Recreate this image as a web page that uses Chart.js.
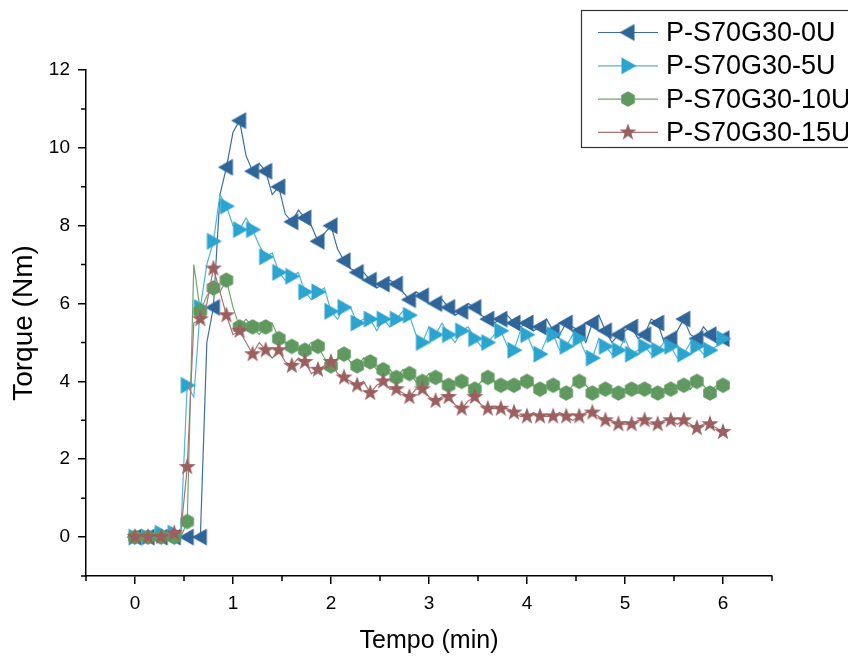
<!DOCTYPE html>
<html>
<head>
<meta charset="utf-8">
<script src="https://cdn.jsdelivr.net/npm/chart.js@4.4.1/dist/chart.umd.min.js"></script>
<style>
  html, body { margin: 0; padding: 0; background: #fff; }
</style>
</head>
<body>
<canvas id="torqueChart" width="848" height="659"></canvas>
<script>
// tempo (min), leitura a cada ~4 s; marcadores nos indices pares
const tempo = [
  0, 0.067, 0.133, 0.2, 0.267, 0.333, 0.4, 0.467, 0.533, 0.6, 0.667, 0.733, 0.8, 0.867, 0.933,
  1, 1.067, 1.133, 1.2, 1.267, 1.333, 1.4, 1.467, 1.533, 1.6, 1.667, 1.733, 1.8, 1.867, 1.933,
  2, 2.067, 2.133, 2.2, 2.267, 2.333, 2.4, 2.467, 2.533, 2.6, 2.667, 2.733, 2.8, 2.867, 2.933,
  3, 3.067, 3.133, 3.2, 3.267, 3.333, 3.4, 3.467, 3.533, 3.6, 3.667, 3.733, 3.8, 3.867, 3.933,
  4, 4.067, 4.133, 4.2, 4.267, 4.333, 4.4, 4.467, 4.533, 4.6, 4.667, 4.733, 4.8, 4.867, 4.933,
  5, 5.067, 5.133, 5.2, 5.267, 5.333, 5.4, 5.467, 5.533, 5.6, 5.667, 5.733, 5.8, 5.867, 5.933,
  6
];

const torque0U = [
  0, 0, 0, 0, 0, 0, 0, 0, 0, 0, 0, 5.0, 5.9, 8.8, 9.5, 10.4, 10.7, 9.8, 9.4, 9.6,
  9.4, 8.8, 9.0, 8.3, 8.1, 8.4, 8.2, 8.0, 7.6, 7.8, 8.0, 7.4, 7.1, 6.9, 6.8, 6.8, 6.6, 6.4, 6.5, 6.6,
  6.5, 6.3, 6.1, 6.3, 6.2, 6.0, 6.0, 6.1, 5.9, 5.7, 5.8, 6.0, 5.9, 5.7, 5.6, 5.5, 5.6, 5.7, 5.5, 5.4,
  5.5, 5.3, 5.4, 5.6, 5.3, 5.2, 5.5, 5.4, 5.3, 5.0, 5.5, 5.7, 5.3, 5.0, 5.2, 5.3, 5.4, 5.1, 5.2, 5.6,
  5.5, 5.0, 5.1, 5.3, 5.6, 5.2, 5.1, 5.4, 5.2, 5.0, 5.1
];

const torque5U = [
  0, 0, 0, 0, 0.1, 0.1, 0.1, 0.1, 3.9, 3.6, 5.9, 7.0, 7.6, 8.8, 8.5, 8.0, 7.9, 8.2, 7.9, 7.5,
  7.2, 7.3, 6.8, 6.6, 6.7, 6.8, 6.3, 6.1, 6.3, 6.4, 5.8, 5.6, 5.9, 5.9, 5.5, 5.6, 5.6, 5.3, 5.6, 5.4,
  5.6, 5.8, 5.7, 5.2, 5.0, 5.4, 5.2, 5.5, 5.2, 5.0, 5.3, 5.4, 5.1, 4.9, 5.0, 5.2, 5.3, 4.9, 4.8, 5.3,
  5.2, 4.8, 4.7, 5.1, 5.2, 4.8, 4.9, 5.2, 5.1, 4.7, 4.6, 5.1, 4.9, 4.7, 4.8, 5.1, 4.7, 4.8, 4.9, 4.7,
  4.8, 5.0, 4.9, 4.6, 4.7, 5.0, 4.9, 4.7, 4.8, 4.9, 5.1
];

const torque10U = [
  0, 0, 0, 0, 0, 0, 0, 0, 0.4, 7.0, 5.8, 6.2, 6.4, 6.3, 6.6, 5.9, 5.4, 5.6, 5.4, 5.2,
  5.4, 5.5, 5.1, 5.0, 4.9, 4.8, 4.8, 5.0, 4.9, 4.6, 4.4, 4.6, 4.7, 4.5, 4.4, 4.6, 4.5, 4.3, 4.3, 4.3,
  4.1, 4.3, 4.2, 4.0, 4.0, 4.2, 4.1, 4.0, 3.9, 4.0, 4.0, 3.9, 3.8, 4.0, 4.1, 4.0, 3.9, 3.9, 3.9, 4.0,
  4.0, 3.9, 3.8, 3.9, 3.9, 3.8, 3.7, 3.9, 4.0, 3.9, 3.7, 3.8, 3.8, 3.8, 3.7, 3.8, 3.8, 3.7, 3.8, 3.8,
  3.7, 3.8, 3.8, 3.9, 3.9, 3.8, 4.0, 3.9, 3.7, 3.9, 3.9
];

const torque15U = [
  0, 0, 0, 0, 0, 0, 0.1, 0.1, 1.8, 5.5, 5.6, 6.0, 6.9, 6.3, 5.7, 5.2, 5.3, 5.0, 4.7, 5.0,
  4.8, 4.6, 4.8, 4.5, 4.4, 4.6, 4.5, 4.2, 4.3, 4.4, 4.5, 4.2, 4.1, 4.0, 3.9, 4.0, 3.7, 3.9, 4.0, 3.8,
  3.8, 3.7, 3.6, 3.8, 3.8, 3.6, 3.5, 3.6, 3.6, 3.4, 3.3, 3.5, 3.6, 3.4, 3.3, 3.3, 3.3, 3.3, 3.2, 3.1,
  3.1, 3.2, 3.1, 3.1, 3.1, 3.2, 3.1, 3.0, 3.1, 3.2, 3.2, 3.1, 3.0, 3.0, 2.9, 2.9, 2.9, 3.0, 3.0, 2.9,
  2.9, 3.0, 3.0, 2.9, 3.0, 2.9, 2.8, 2.9, 2.9, 2.8, 2.7
];

const seriesNames = ["P-S70G30-0U", "P-S70G30-5U", "P-S70G30-10U", "P-S70G30-15U"];
const xTicks = [0, 1, 2, 3, 4, 5, 6];
const yTicks = [0, 2, 4, 6, 8, 10, 12];
const xMinor = [-0.5, 0.5, 1.5, 2.5, 3.5, 4.5, 5.5, 6.5];
const yMinor = [-1, 1, 3, 5, 7, 9, 11];

const fontFamily = "'Liberation Sans', Arial, sans-serif";

function markerCanvas(color, shape) {
  const s = 20;
  const c = document.createElement("canvas");
  c.width = s;
  c.height = s;
  const g = c.getContext("2d");
  g.fillStyle = color;
  g.translate(s / 2, s / 2);
  g.beginPath();
  if (shape === "left" || shape === "right") {
    const d = shape === "left" ? -1 : 1;
    g.moveTo(8.5 * d, 0);
    g.lineTo(-6.5 * d, -8.5);
    g.lineTo(-6.5 * d, 8.5);
  } else if (shape === "hex") {
    for (let k = 0; k < 6; k++) {
      const a = Math.PI / 6 + (k * Math.PI) / 3;
      g.lineTo(7.8 * Math.cos(a), 7.8 * Math.sin(a));
    }
  } else {
    for (let k = 0; k < 10; k++) {
      const r = k % 2 ? 3.6 : 9;
      const a = -Math.PI / 2 + (k * Math.PI) / 5;
      g.lineTo(r * Math.cos(a), r * Math.sin(a));
    }
  }
  g.closePath();
  g.fill();
  return c;
}

const estilos = [
  { line: "#3b6fa3", mark: "#2f6598", shape: "left" },
  { line: "#4fb6da", mark: "#2ba4cf", shape: "right" },
  { line: "#6fa66f", mark: "#5f995f", shape: "hex" },
  { line: "#a87272", mark: "#9b5f5f", shape: "star" },
];
const marcadores = estilos.map((e) => markerCanvas(e.mark, e.shape));
const valores = [torque0U, torque5U, torque10U, torque15U];

const datasets = valores.map((vals, k) => ({
  label: seriesNames[k],
  data: tempo.map((t, i) => ({ x: t, y: vals[i] })),
  borderColor: estilos[k].line,
  backgroundColor: estilos[k].mark,
  borderWidth: 1.2,
  tension: 0,
  pointStyle: marcadores[k],
  pointRadius: (ctx) => (ctx.dataIndex % 2 === 0 ? 7 : 0),
  pointHoverRadius: 0,
  order: 3 - k,
}));

// ticks menores + legenda tipo Origin
const extras = {
  id: "extras",
  afterDraw(chart) {
    const { ctx, scales: { x, y } } = chart;
    ctx.save();
    ctx.strokeStyle = "#000";
    ctx.lineWidth = 1.5;
    ctx.beginPath();
    xMinor.forEach((v) => {
      const px = x.getPixelForValue(v);
      ctx.moveTo(px, y.bottom);
      ctx.lineTo(px, y.bottom + 5);
    });
    yMinor.forEach((v) => {
      const py = y.getPixelForValue(v);
      ctx.moveTo(x.left, py);
      ctx.lineTo(x.left - 5, py);
    });
    ctx.stroke();

    // legenda
    const bx = 581.5, by = 10.5;
    ctx.strokeStyle = "#333";
    ctx.lineWidth = 1.2;
    ctx.strokeRect(bx, by, 320, 137);
    ctx.font = "27px " + fontFamily;
    ctx.textBaseline = "middle";
    ctx.fillStyle = "#000";
    seriesNames.forEach((name, k) => {
      const ry = by + 22 + k * 33.3;
      ctx.strokeStyle = estilos[k].line;
      ctx.lineWidth = 1.2;
      ctx.beginPath();
      ctx.moveTo(598, ry);
      ctx.lineTo(658, ry);
      ctx.stroke();
      const m = marcadores[k];
      ctx.drawImage(m, 628 - m.width / 2, ry - m.height / 2);
      ctx.fillText(name, 666, ry + 1);
    });
    ctx.restore();
  },
};

new Chart(document.getElementById("torqueChart"), {
  type: "line",
  data: { datasets },
  options: {
    responsive: false,
    animation: false,
    layout: { padding: { top: 70, right: 76, left: 0, bottom: 0 } },
    plugins: {
      legend: { display: false },
      tooltip: { enabled: false },
    },
    scales: {
      x: {
        type: "linear",
        min: -0.5,
        max: 6.5,
        afterBuildTicks: (axis) => {
          axis.ticks = xTicks.map((v) => ({ value: v }));
        },
        afterFit: (scale) => {
          scale.height = 83;
        },
        border: { display: true, color: "#000", width: 1.5 },
        grid: { drawOnChartArea: false, drawTicks: true, tickLength: 8, color: "#000", lineWidth: 1.5 },
        ticks: { color: "#000", padding: 8, font: { family: fontFamily, size: 19 } },
        title: {
          display: true,
          text: "Tempo (min)",
          color: "#000",
          font: { family: fontFamily, size: 25 },
          padding: { top: 0, bottom: 3 },
        },
      },
      y: {
        type: "linear",
        min: -1,
        max: 12,
        afterBuildTicks: (axis) => {
          axis.ticks = yTicks.map((v) => ({ value: v }));
        },
        afterFit: (scale) => {
          scale.width = 86;
        },
        border: { display: true, color: "#000", width: 1.5 },
        grid: { drawOnChartArea: false, drawTicks: true, tickLength: 8, color: "#000", lineWidth: 1.5 },
        ticks: { color: "#000", padding: 8, font: { family: fontFamily, size: 19 } },
        title: {
          display: true,
          text: "Torque (Nm)",
          color: "#000",
          font: { family: fontFamily, size: 28 },
          padding: { top: 7, bottom: 0 },
        },
      },
    },
  },
  plugins: [extras],
});
</script>
</body>
</html>
